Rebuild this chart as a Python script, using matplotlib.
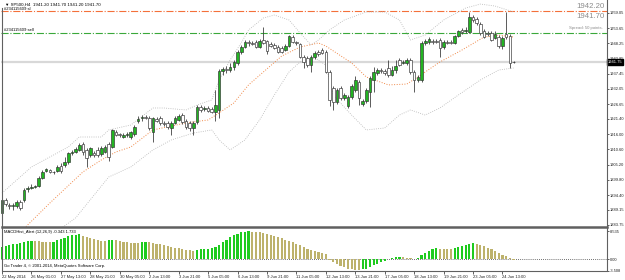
#!/usr/bin/env python3
# -*- coding: utf-8 -*-
"""
Recria o grafico SP500 H4 (MetaTrader) com candles, Bandas de Bollinger
e o histograma MACDHist_Alert no painel de baixo. Saida: out.png
"""
import matplotlib
matplotlib.use("Agg")
import matplotlib.pyplot as plt
from matplotlib.lines import Line2D

plt.rcParams["font.family"] = ["Liberation Sans", "DejaVu Sans"]

# ---------------------------------------------------------------- dados
OPEN = [
    1888.0, 1892.65, 1890.85, 1890.5, 1890.5, 1891.9, 1892.65, 1896.55, 1896.9, 1897.25,
    1897.6, 1900.45, 1902.95, 1903.3, 1902.55, 1902.95, 1904.7, 1905.05, 1906.15, 1909.3,
    1909.7, 1910.4, 1912.5, 1910.4, 1908.6, 1909.3, 1910.4, 1908.95, 1909.7, 1912.5,
    1911.45, 1916.8, 1916.05, 1915.0, 1915.7, 1915.0, 1916.05, 1920.7, 1921.75, 1922.1,
    1921.75, 1916.8, 1921.4, 1921.75, 1920.0, 1920.0, 1918.2, 1920.0, 1921.05, 1922.8,
    1920.7, 1920.0, 1918.2, 1920.35, 1925.65, 1924.95, 1925.3, 1924.95, 1923.9, 1924.6,
    1938.45, 1939.15, 1938.8, 1939.85, 1941.3, 1945.2, 1946.95, 1948.75, 1948.4, 1948.75,
    1946.95, 1949.45, 1949.1, 1948.05, 1947.65, 1946.95, 1946.6, 1945.9, 1947.3, 1950.5,
    1948.75, 1948.05, 1943.4, 1943.05, 1940.55, 1943.4, 1945.2, 1945.9, 1945.2, 1938.1,
    1932.4, 1927.45, 1932.4, 1928.85, 1926.0, 1929.2, 1931.7, 1934.55, 1926.7, 1927.8,
    1931.0, 1935.25, 1937.75, 1938.8, 1938.45, 1939.5, 1937.0, 1938.8, 1942.35, 1941.3,
    1941.3, 1942.35, 1938.1, 1935.25, 1935.25, 1948.4, 1948.75, 1949.1, 1949.1, 1949.45,
    1946.95, 1948.75, 1948.75, 1948.4, 1950.85, 1953.0, 1952.65, 1952.3, 1957.6, 1956.9,
    1955.15, 1952.65, 1951.95, 1951.95, 1950.15, 1950.5, 1947.3, 1951.6, 1950.85, 1941.65,
]
HIGH = [
    1893.3, 1893.3, 1891.55, 1891.55, 1892.65, 1892.65, 1896.9, 1897.6, 1898.3, 1897.95,
    1901.15, 1903.3, 1904.0, 1903.65, 1902.95, 1905.05, 1905.75, 1907.9, 1909.7, 1910.4,
    1911.45, 1912.9, 1913.25, 1911.1, 1911.45, 1910.05, 1911.45, 1911.8, 1912.15, 1913.25,
    1917.85, 1917.5, 1916.4, 1916.4, 1916.8, 1917.15, 1919.25, 1922.45, 1922.8, 1922.8,
    1922.45, 1922.1, 1922.1, 1922.45, 1920.7, 1920.7, 1920.7, 1922.45, 1923.2, 1923.55,
    1921.4, 1920.7, 1920.7, 1926.35, 1926.35, 1926.0, 1926.0, 1925.65, 1931.7, 1939.15,
    1939.85, 1940.2, 1941.3, 1942.35, 1945.9, 1947.65, 1949.45, 1949.45, 1949.1, 1949.45,
    1949.8, 1954.05, 1949.45, 1948.75, 1948.4, 1947.65, 1947.3, 1948.05, 1951.2, 1951.2,
    1949.1, 1948.4, 1944.1, 1943.75, 1944.1, 1945.55, 1945.9, 1946.6, 1945.9, 1938.8,
    1933.1, 1932.4, 1933.1, 1930.65, 1929.9, 1933.8, 1936.65, 1935.25, 1928.5, 1932.4,
    1936.65, 1939.85, 1939.5, 1939.5, 1939.15, 1942.35, 1940.2, 1942.35, 1943.05, 1942.35,
    1943.05, 1943.05, 1938.8, 1937.0, 1949.1, 1949.8, 1950.5, 1949.8, 1949.8, 1950.15,
    1949.45, 1949.45, 1949.45, 1951.2, 1953.0, 1953.7, 1954.05, 1959.4, 1958.3, 1957.6,
    1955.85, 1953.35, 1952.65, 1952.65, 1952.65, 1951.2, 1950.85, 1959.4, 1951.6, 1942.0,
]
LOW = [
    1884.1, 1890.5, 1889.45, 1889.1, 1889.8, 1889.1, 1891.9, 1895.5, 1896.55, 1896.9,
    1897.25, 1900.1, 1902.55, 1902.2, 1901.85, 1902.55, 1902.2, 1904.35, 1905.4, 1908.6,
    1909.3, 1910.05, 1908.6, 1904.35, 1907.9, 1907.9, 1907.9, 1908.25, 1909.3, 1906.5,
    1911.1, 1915.35, 1915.0, 1914.65, 1915.0, 1914.3, 1915.35, 1919.95, 1920.7, 1921.4,
    1917.5, 1913.25, 1920.35, 1919.25, 1918.9, 1917.85, 1915.7, 1919.6, 1920.7, 1919.6,
    1917.85, 1917.15, 1915.7, 1919.6, 1923.9, 1924.25, 1923.9, 1923.55, 1920.7, 1921.75,
    1937.0, 1937.75, 1938.1, 1938.8, 1940.55, 1944.5, 1946.6, 1947.3, 1947.65, 1946.6,
    1946.6, 1948.05, 1944.5, 1946.95, 1946.25, 1944.85, 1944.85, 1945.55, 1946.95, 1948.4,
    1947.65, 1943.05, 1939.5, 1939.85, 1938.1, 1942.7, 1943.75, 1944.5, 1937.75, 1926.0,
    1924.6, 1926.7, 1928.15, 1928.15, 1925.3, 1928.5, 1931.0, 1926.35, 1926.0, 1927.1,
    1925.65, 1930.95, 1937.0, 1937.75, 1937.0, 1936.3, 1936.65, 1937.75, 1940.2, 1940.9,
    1940.55, 1937.4, 1930.95, 1934.55, 1934.55, 1947.65, 1948.05, 1948.05, 1948.4, 1943.4,
    1946.25, 1948.05, 1948.05, 1948.05, 1950.5, 1951.55, 1951.95, 1951.95, 1955.85, 1954.75,
    1951.2, 1950.15, 1950.85, 1949.1, 1949.8, 1946.6, 1946.25, 1949.8, 1939.5, 1941.3,
]
CLOSE = [
    1892.65, 1891.2, 1890.5, 1890.85, 1891.9, 1889.8, 1896.2, 1896.9, 1897.25, 1897.6,
    1900.45, 1902.55, 1903.65, 1902.55, 1902.4, 1904.35, 1902.95, 1906.15, 1909.3, 1909.7,
    1910.75, 1912.15, 1909.7, 1907.55, 1911.1, 1908.6, 1908.6, 1911.1, 1911.45, 1907.9,
    1917.5, 1915.7, 1915.7, 1915.7, 1916.05, 1916.8, 1918.55, 1921.4, 1922.1, 1921.75,
    1918.2, 1921.75, 1920.7, 1920.0, 1919.6, 1918.55, 1920.0, 1921.75, 1922.45, 1920.35,
    1918.55, 1918.2, 1920.0, 1925.65, 1924.6, 1925.3, 1924.25, 1923.9, 1926.35, 1938.45,
    1939.15, 1938.8, 1939.85, 1941.65, 1945.2, 1946.95, 1948.75, 1948.4, 1948.2, 1946.95,
    1949.1, 1948.4, 1945.55, 1947.3, 1946.6, 1945.2, 1945.2, 1947.3, 1950.85, 1948.75,
    1948.4, 1943.4, 1941.65, 1940.55, 1943.4, 1944.8, 1944.5, 1944.8, 1938.1, 1928.15,
    1927.45, 1931.7, 1928.85, 1929.9, 1929.2, 1933.1, 1935.25, 1928.85, 1927.8, 1931.7,
    1935.95, 1938.1, 1938.8, 1938.45, 1937.75, 1937.0, 1938.8, 1940.2, 1940.55, 1941.65,
    1942.35, 1938.1, 1935.25, 1936.3, 1948.4, 1949.1, 1949.8, 1948.75, 1948.9, 1946.6,
    1948.75, 1948.55, 1948.4, 1950.85, 1952.65, 1952.3, 1953.0, 1957.6, 1956.55, 1955.5,
    1951.95, 1950.5, 1951.6, 1949.45, 1951.6, 1947.3, 1950.15, 1950.5, 1941.3, 1941.7,
]

# Bandas de Bollinger (indice da barra, preco)
BB_UP_BAR = [0, 8, 18, 21, 27, 29, 35, 41, 44, 50, 53, 57, 59, 62, 65, 67, 71, 74, 78,
             81, 84, 86, 89, 93, 99, 104, 108, 111, 115, 120, 126, 130, 134, 139]
BB_UP = [1895.1, 1904.35, 1911.45, 1915.0, 1915.0, 1917.5, 1919.25, 1925.3, 1925.3,
         1924.6, 1926.35, 1928.15, 1935.25, 1942.35, 1948.4, 1953.0, 1957.25, 1958.3,
         1956.55, 1951.95, 1947.65, 1949.45, 1953.0, 1956.55, 1959.4, 1959.4, 1956.55,
         1949.45, 1951.2, 1956.55, 1960.8, 1962.2, 1961.5, 1959.4]
BB_MID_BAR = [6, 13, 22, 27, 31, 35, 41, 50, 56, 59, 63, 67, 76, 81, 86, 88, 95, 99,
              105, 110, 113, 119, 125, 131, 135, 139]
BB_MID = [1882.5, 1891.55, 1902.6, 1906.85, 1909.7, 1911.45, 1917.5, 1920.0, 1921.05,
          1923.55, 1927.1, 1933.5, 1943.75, 1946.95, 1948.4, 1947.3, 1941.3, 1936.3,
          1933.5, 1933.8, 1936.3, 1941.65, 1945.9, 1950.5, 1951.2, 1950.5]
BB_LO_BAR = [16, 20, 29, 35, 41, 46, 52, 57, 59, 62, 66, 70, 74, 78, 81, 85, 88, 90,
             95, 99, 104, 108, 111, 115, 119, 124, 130, 135, 139]
BB_LO = [1882.5, 1886.25, 1900.8, 1904.35, 1910.4, 1913.95, 1916.4, 1917.5, 1913.95,
         1910.4, 1913.95, 1921.05, 1929.9, 1938.1, 1941.65, 1943.05, 1940.55, 1929.9,
         1922.8, 1917.5, 1918.2, 1922.8, 1924.6, 1922.8, 1925.3, 1929.9, 1935.25,
         1938.8, 1939.5]

MACD_HIST = [
    3.6, 3.9, 4.2, 4.5, 4.8, 5.0, 5.3, 5.5, 5.7,
    5.6, 5.5, 5.4, 5.3, 5.2,
    5.4, 5.8, 6.2, 6.6, 7.0, 7.3, 7.5, 7.6,
    7.2, 6.8, 6.4, 6.1, 5.9, 5.7, 5.6,
    5.8, 6.0,
    5.8, 5.6, 5.4, 5.2, 5.1, 5.0, 4.9,
    5.3, 5.4,
    5.2, 5.0, 4.8, 4.5, 4.2, 3.9, 3.7, 3.5, 3.3, 3.1, 2.9, 2.7, 2.6,
    2.8, 3.0, 3.1, 3.2, 3.3,
    3.6, 4.3, 5.2, 6.0, 6.7, 7.3, 7.8, 8.2, 8.4, 8.5,
    8.45, 8.4, 8.2, 8.0, 7.8, 7.5, 7.1, 6.8, 6.4, 6.0, 5.6, 5.2, 4.7, 4.2, 3.6,
    3.1, 2.8, 2.5, 2.2, 1.9, 1.6,
    -0.3, -1.0, -1.6, -2.1, -2.5, -2.9, -3.1, -3.3, -3.5,
    -3.2, -2.9, -2.4, -1.9, -1.4, -0.9, -0.5,
    0.1, 0.3, 0.5, 0.7,
    0.5, 0.3, 0.2, 0.1,
    0.3, 1.2, 1.9, 2.5, 3.0, 3.3,
    3.25, 3.2, 3.15, 3.1,
    3.4, 3.8, 4.1, 4.3, 4.7, 4.9,
    4.6, 4.3, 3.9, 3.5, 3.0, 2.5, 2.0, 1.4, 0.9, 0.3, -0.343,
]

PRICE_TICKS = [1959.05, 1953.65, 1948.25, 1942.85, 1937.45, 1932.05, 1926.65, 1921.40,
               1916.00, 1910.60, 1905.20, 1899.80, 1894.40, 1889.15, 1883.75]
DATE_BARS = [0, 8, 16, 24, 32, 40, 48, 56, 64, 72, 80, 88, 96, 104, 112, 120, 128, 136]
DATE_LABELS = ["22 May 2014", "26 May 01:00", "27 May 13:00", "28 May 21:00",
               "30 May 05:00", "2 Jun 13:00", "3 Jun 21:00", "5 Jun 05:00",
               "6 Jun 13:00", "9 Jun 21:00", "11 Jun 05:00", "12 Jun 13:00",
               "13 Jun 21:00", "17 Jun 05:00", "18 Jun 13:00", "19 Jun 21:00",
               "23 Jun 05:00", "24 Jun 13:00"]

SL_PRICE = 1959.74
SELL_PRICE = 1951.93
BID = 1941.70

# ---------------------------------------------------------------- layout
W, H = 625, 280
PX_BAR = 3.68           # pixels por barra
X0 = 2                  # pixel da barra 0
BULL = "#22b422"
BEAR = "#ffffff"
EDGE = "#303030"
MACD_UP = "#1ecb1e"
MACD_DN = "#bdb26c"
FS_AXIS = 2.9
FS_TXT = 3.0


def rect(x0, y0, x1, y1):
    return [x0 / W, 1 - y1 / H, (x1 - x0) / W, (y1 - y0) / H]


def xlim():
    return (1 - X0) / PX_BAR, (607 - X0) / PX_BAR


def desenha_candles(ax):
    n = len(CLOSE)
    idx = list(range(n))
    ax.vlines(idx, LOW, HIGH, color="#404040", linewidth=0.6, zorder=3)
    cores = [BULL if c >= o else BEAR for o, c in zip(OPEN, CLOSE)]
    alturas = [c - o if abs(c - o) > 0.12 else 0.12 for o, c in zip(OPEN, CLOSE)]
    ax.bar(idx, alturas, bottom=OPEN, width=0.72, color=cores, edgecolor=EDGE,
           linewidth=0.45, zorder=4)


def main():
    fig = plt.figure(figsize=(W / 100, H / 100), dpi=100)
    fig.patch.set_facecolor("white")

    ax = fig.add_axes(rect(1, 0, 607, 227))
    ax.set_xlim(*xlim())
    ylo, yhi = 1883.75 - 2 / 2.816, 1963.65
    ax.set_ylim(ylo, yhi)
    for s in ax.spines.values():
        s.set_visible(False)
    ax.set_xticks([])

    # linhas horizontais (bid, ordens)
    ax.axhline(BID, color="#d8d8d8", linewidth=1.6, zorder=1)
    ax.axhline(SL_PRICE, color="#f4703a", linewidth=0.8, linestyle="-.", zorder=2)
    ax.axhline(SELL_PRICE, color="#3aa83a", linewidth=0.8, linestyle="-.", zorder=2)

    # Bollinger
    ax.plot(BB_UP_BAR, BB_UP, color="#b4b4b4", linewidth=0.6, linestyle=":", zorder=2)
    ax.plot(BB_LO_BAR, BB_LO, color="#b4b4b4", linewidth=0.6, linestyle=":", zorder=2)
    ax.plot(BB_MID_BAR, BB_MID, color="#f08848", linewidth=0.7, linestyle=":", zorder=2)

    desenha_candles(ax)

    # eixo de precos a direita
    ax.yaxis.tick_right()
    ax.set_yticks(PRICE_TICKS)
    ax.set_yticklabels([f"{p:.2f}" for p in PRICE_TICKS], fontsize=FS_AXIS)
    ax.tick_params(axis="y", length=1.5, width=0.5, pad=0.8, colors="#202020")
    ax.text(1.001, (BID - ylo) / (yhi - ylo), "1941.75", transform=ax.transAxes,
            fontsize=FS_AXIS, color="white", va="center", ha="left",
            bbox=dict(boxstyle="square,pad=0.2", fc="black", ec="black"))

    # textos
    ax.text(4 / 606, 1 - 4.5 / 227, "\u25bc SP500,H4  1941.20 1941.70 1941.20 1941.70",
            transform=ax.transAxes, fontsize=FS_TXT + 0.2, va="center", ha="left")
    ax.text(3 / 606, 1 - 9 / 227, "#234115609 sl", transform=ax.transAxes,
            fontsize=FS_TXT, va="center", ha="left")
    ax.text(3 / 606, 1 - 30 / 227, "#234115609 sell", transform=ax.transAxes,
            fontsize=FS_TXT, va="center", ha="left")
    ax.text(604 / 606, 1 - 7 / 227, "1942.20", transform=ax.transAxes, fontsize=5.6,
            color="#8c8c8c", va="center", ha="right")
    ax.text(604 / 606, 1 - 16 / 227, "1941.70", transform=ax.transAxes, fontsize=5.6,
            color="#8c8c8c", va="center", ha="right")
    ax.text(602 / 606, 1 - 28 / 227, "Spread: 50 points.", transform=ax.transAxes,
            fontsize=FS_TXT + 0.1, color="#8c8c8c", va="center", ha="right")

    # painel MACD
    ax2 = fig.add_axes(rect(1, 228.5, 607, 270.5))
    ax2.set_xlim(*xlim())
    ax2.set_ylim(-3.5, 9.42)
    for s in ax2.spines.values():
        s.set_visible(False)
    cores = [MACD_UP if i == 0 or v >= MACD_HIST[i - 1] else MACD_DN
             for i, v in enumerate(MACD_HIST)]
    ax2.bar(range(len(MACD_HIST)), MACD_HIST, width=0.58, color=cores, linewidth=0, zorder=3)
    ax2.axhline(0, color="#404040", linewidth=0.6, linestyle=(0, (1, 1.5)), zorder=2)
    ax2.yaxis.tick_right()
    ax2.set_yticks([8.535, 0.0, -3.508])
    ax2.set_yticklabels(["8.535", "0.00", "-3.508"], fontsize=FS_AXIS)
    ax2.tick_params(axis="y", length=1.5, width=0.5, pad=0.8, colors="#202020")
    ax2.set_xticks(DATE_BARS)
    ax2.set_xticklabels(DATE_LABELS, fontsize=FS_TXT, ha="left")
    ax2.tick_params(axis="x", length=2.5, width=0.5, pad=0.8, colors="#202020")
    ax2.text(3 / 606, 1 - 3.5 / 42, "MACDHist_Alert (12,26,9) -0.343 1.733",
             transform=ax2.transAxes, fontsize=FS_TXT, va="center", ha="left")
    ax2.text(3 / 606, 1 - 38 / 42, "Go Trader 4, \u00a9 2001-2014, MetaQuotes Software Corp.",
             transform=ax2.transAxes, fontsize=FS_TXT, va="center", ha="left")

    # molduras (estilo MT4)
    kw = dict(transform=fig.transFigure, color="#606060")
    fig.add_artist(Line2D([2 / W, 2 / W], [1 - 8 / H, 1 - 270 / H], linewidth=0.8, **kw))
    fig.add_artist(Line2D([607 / W, 607 / W], [1, 1 - 270 / H], linewidth=0.8, **kw))
    fig.add_artist(Line2D([2 / W, 607 / W], [1 - 227 / H, 1 - 227 / H], linewidth=1.8, **kw))
    fig.add_artist(Line2D([2 / W, 607 / W], [1 - 270.5 / H, 1 - 270.5 / H], linewidth=0.8, **kw))

    fig.savefig("out.png", dpi=100)
    plt.close(fig)


if __name__ == "__main__":
    main()
